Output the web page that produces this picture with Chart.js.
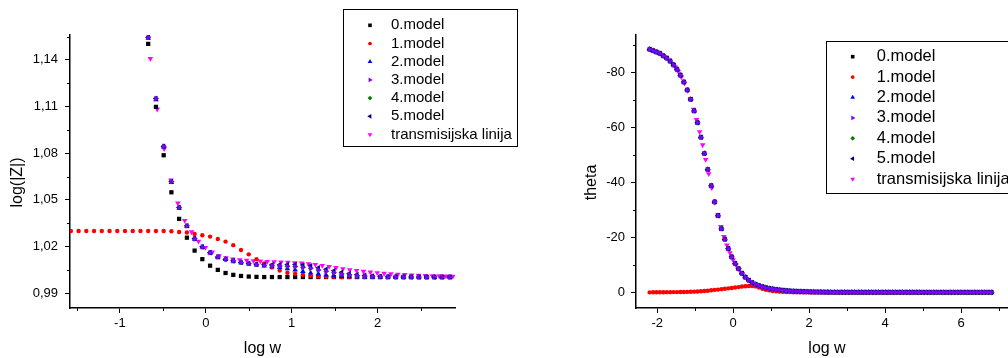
<!DOCTYPE html>
<html>
<head>
<meta charset="utf-8">
<script src="https://cdn.jsdelivr.net/npm/chart.js@4.4.1/dist/chart.umd.min.js"></script>
<style>
html, body { margin: 0; padding: 0; background: #fff; overflow: hidden; }
#wrap { position: relative; width: 1008px; height: 358px; overflow: hidden; }
#left { position: absolute; left: 0; top: 0; }
#right { position: absolute; left: 540px; top: 0; }
</style>
</head>
<body>
<div id="wrap">
  <canvas id="left" width="540" height="358"></canvas>
  <canvas id="right" width="500" height="358"></canvas>
</div>
<script>
// ---- data ----
const labels = ['0.model', '1.model', '2.model', '3.model', '4.model', '5.model', 'transmisijska linija'];

// log w sampling of the models
const logW = [-2.20, -2.11, -2.02, -1.93, -1.84, -1.75, -1.66, -1.57, -1.48, -1.39,
  -1.30, -1.21, -1.12, -1.03, -0.94, -0.85, -0.76, -0.67, -0.58, -0.49,
  -0.40, -0.31, -0.22, -0.13, -0.04, 0.05, 0.14, 0.23, 0.32, 0.41,
  0.50, 0.59, 0.68, 0.77, 0.86, 0.95, 1.04, 1.13, 1.22, 1.31,
  1.40, 1.49, 1.58, 1.67, 1.76, 1.85, 1.94, 2.03, 2.12, 2.21,
  2.30, 2.39, 2.48, 2.57, 2.66, 2.75, 2.84, 2.93, 3.02, 3.11,
  3.20, 3.29, 3.38, 3.47, 3.56, 3.65, 3.74, 3.83, 3.92, 4.01,
  4.10, 4.19, 4.28, 4.37, 4.46, 4.55, 4.64, 4.73, 4.82, 4.91,
  5.00, 5.09, 5.18, 5.27, 5.36, 5.45, 5.54, 5.63, 5.72, 5.81,
  5.90, 5.99, 6.08, 6.17, 6.26, 6.35, 6.44, 6.53, 6.62, 6.71, 6.80];

// log w sampling of the transmission line
const logWLine = [-2.165, -2.085, -2.005, -1.925, -1.845, -1.765, -1.685, -1.605, -1.525, -1.445,
  -1.365, -1.285, -1.205, -1.125, -1.045, -0.965, -0.885, -0.805, -0.725, -0.645,
  -0.565, -0.485, -0.405, -0.325, -0.245, -0.165, -0.085, -0.005, 0.075, 0.155,
  0.235, 0.315, 0.395, 0.475, 0.555, 0.635, 0.715, 0.795, 0.875, 0.955,
  1.035, 1.115, 1.195, 1.275, 1.355, 1.435, 1.515, 1.595, 1.675, 1.755,
  1.835, 1.915, 1.995, 2.075, 2.155, 2.235, 2.315, 2.395, 2.475, 2.555,
  2.635, 2.715, 2.795, 2.875, 2.955, 3.035, 3.115, 3.195, 3.275, 3.355,
  3.435, 3.515, 3.595, 3.675, 3.755, 3.835, 3.915, 3.995, 4.075, 4.155,
  4.235, 4.315, 4.395, 4.475, 4.555, 4.635, 4.715, 4.795, 4.875, 4.955,
  5.035, 5.115, 5.195, 5.275, 5.355, 5.435, 5.515, 5.595, 5.675, 5.755,
  5.835, 5.915, 5.995, 6.075, 6.155, 6.235, 6.315, 6.395, 6.475, 6.555,
  6.635, 6.715, 6.795];

// left panel: log(|Z|), points logW[7..56]; null = above the visible range
const zModel0 = [null, null, null, null, null, null, null, null, null, null,
  1.1503, 1.1098, 1.0787, 1.0549, 1.0378, 1.0257, 1.0174, 1.0119, 1.0077, 1.0050,
  1.0030, 1.0018, 1.0011, 1.0007, 1.0005, 1.0004, 1.0004, 1.0004, 1.0004, 1.0004,
  1.0004, 1.0004, 1.0004, 1.0004, 1.0004, 1.0004, 1.0004, 1.0004, 1.0004, 1.0004,
  1.0004, 1.0004, 1.0004, 1.0004, 1.0004, 1.0003, 1.0003, 1.0003, 1.0003, 1.0003];
const zModel1 = [1.0300, 1.0300, 1.0300, 1.0300, 1.0300, 1.0300, 1.0300, 1.0300, 1.0300, 1.0300,
  1.0300, 1.0300, 1.0300, 1.0298, 1.0294, 1.0290, 1.0281, 1.0273, 1.0264, 1.0249,
  1.0232, 1.0209, 1.0178, 1.0150, 1.0119, 1.0092, 1.0066, 1.0046, 1.0032, 1.0025,
  1.0019, 1.0012, 1.0008, 1.0006, 1.0005, 1.0004, 1.0004, 1.0004, 1.0004, 1.0004,
  1.0004, 1.0004, 1.0004, 1.0004, 1.0004, 1.0004, 1.0004, 1.0004, 1.0004, 1.0004];
const zModel2 = [null, null, null, null, null, null, null, null, null, null,
  1.1540, 1.1145, 1.0840, 1.0613, 1.0447, 1.0330, 1.0248, 1.0196, 1.0159, 1.0131,
  1.0117, 1.0106, 1.0096, 1.0089, 1.0082, 1.0076, 1.0071, 1.0066, 1.0058, 1.0050,
  1.0040, 1.0031, 1.0025, 1.0018, 1.0012, 1.0008, 1.0006, 1.0005, 1.0004, 1.0004,
  1.0004, 1.0004, 1.0004, 1.0004, 1.0004, 1.0004, 1.0004, 1.0004, 1.0004, 1.0004];
// 3.model and 4.model coincide in the picture
const zModel3 = [null, null, null, null, null, null, null, null, null, null,
  1.1546, 1.1151, 1.0845, 1.0618, 1.0451, 1.0334, 1.0251, 1.0198, 1.0161, 1.0133,
  1.0119, 1.0108, 1.0098, 1.0091, 1.0085, 1.0080, 1.0077, 1.0075, 1.0073, 1.0071,
  1.0067, 1.0061, 1.0050, 1.0041, 1.0032, 1.0024, 1.0018, 1.0013, 1.0010, 1.0008,
  1.0006, 1.0005, 1.0004, 1.0004, 1.0004, 1.0004, 1.0004, 1.0004, 1.0004, 1.0004];
const zModel5 = [null, null, null, null, null, null, null, null, null, null,
  1.1546, 1.1151, 1.0845, 1.0618, 1.0451, 1.0334, 1.0251, 1.0198, 1.0161, 1.0133,
  1.0119, 1.0108, 1.0098, 1.0091, 1.0087, 1.0084, 1.0083, 1.0083, 1.0084, 1.0085,
  1.0082, 1.0076, 1.0064, 1.0054, 1.0045, 1.0035, 1.0026, 1.0020, 1.0015, 1.0011,
  1.0008, 1.0006, 1.0005, 1.0004, 1.0004, 1.0004, 1.0004, 1.0004, 1.0004, 1.0004];
// transmission line, points logWLine[19..63]
const zLine = [1.1408, 1.1083, 1.0828, 1.0628, 1.0479, 1.0367, 1.0294, 1.0234, 1.0193, 1.0164,
  1.0140, 1.0127, 1.0119, 1.0114, 1.0111, 1.0108, 1.0106, 1.0104, 1.0102, 1.0100,
  1.0098, 1.0096, 1.0093, 1.0089, 1.0084, 1.0078, 1.0071, 1.0064, 1.0057, 1.0051,
  1.0045, 1.0040, 1.0035, 1.0031, 1.0027, 1.0024, 1.0021, 1.0019, 1.0017, 1.0015,
  1.0013, 1.0012, 1.0011, 1.0010, 1.0009];

// right panel: theta (deg)
// 0, 2, 3, 4 and 5.model all lie on the same points
const thetaFit = [-88.4, -87.9, -87.4, -86.9, -86.0, -85.2, -84.1, -82.7, -81.1, -79.0,
  -76.5, -73.6, -70.2, -66.0, -61.7, -56.4, -50.5, -44.7, -38.8, -32.9,
  -27.9, -23.1, -19.3, -15.9, -12.9, -10.5, -8.6, -6.9, -5.5, -4.4,
  -3.5, -2.9, -2.4, -2.0, -1.7, -1.4, -1.2, -1.0, -0.85, -0.72,
  -0.6, -0.5, -0.42, -0.35, -0.3, -0.25, -0.2, -0.17, -0.14, -0.12,
  -0.1, -0.08, -0.07, -0.06, -0.05, -0.04, -0.03, -0.03, -0.02, -0.02,
  -0.02, -0.01, -0.01, -0.01, -0.01, -0.01, -0.01, -0.01, -0.01, -0.01,
  -0.01, -0.01, -0.01, -0.01, -0.01, -0.01, -0.01, -0.01, -0.01, -0.01,
  0, 0, 0, 0, 0, 0, 0, 0, 0, 0,
  0, 0, 0, 0, 0, 0, 0, 0, 0, 0, 0];
const thetaModel1 = [0, -0.02, -0.03, -0.04, -0.05, -0.06, -0.07, -0.08, -0.09, -0.1,
  -0.12, -0.15, -0.2, -0.25, -0.3, -0.4, -0.5, -0.6, -0.75, -0.9,
  -1.0, -1.15, -1.3, -1.45, -1.6, -1.75, -1.9, -2.1, -2.2, -2.3,
  -2.3, -2.15, -1.75, -1.3, -0.95, -0.7, -0.5, -0.35, -0.25, -0.18,
  -0.12, -0.08, -0.05, -0.03, -0.02, -0.02, -0.01, -0.01, -0.01, -0.01,
  0, 0, 0, 0, 0, 0, 0, 0, 0, 0,
  0, 0, 0, 0, 0, 0, 0, 0, 0, 0,
  0, 0, 0, 0, 0, 0, 0, 0, 0, 0,
  0, 0, 0, 0, 0, 0, 0, 0, 0, 0,
  0, 0, 0, 0, 0, 0, 0, 0, 0, 0, 0];
const thetaLine = [-88.2, -87.8, -87.3, -86.9, -86.1, -85.3, -84.4, -83.2, -81.9, -80.3,
  -78.3, -76.0, -73.4, -70.4, -66.6, -62.8, -58.4, -53.6, -48.3, -43.1,
  -38.0, -32.7, -28.2, -23.9, -20.3, -17.2, -14.4, -11.8, -9.9, -8.3,
  -6.8, -5.6, -4.6, -3.7, -3.2, -2.7, -2.3, -1.9, -1.65, -1.4,
  -1.2, -1.05, -0.9, -0.75, -0.65, -0.56, -0.48, -0.41, -0.35, -0.3,
  -0.26, -0.22, -0.18, -0.15, -0.13, -0.11, -0.1, -0.09, -0.08, -0.07,
  -0.06, -0.05, -0.05, -0.04, -0.04, -0.03, -0.03, -0.02, -0.02, -0.02,
  -0.01, -0.01, -0.01, -0.01, -0.01, -0.01, -0.01, -0.01, -0.01, -0.01,
  0, 0, 0, 0, 0, 0, 0, 0, 0, 0,
  0, 0, 0, 0, 0, 0, 0, 0, 0, 0,
  0, 0, 0, 0, 0, 0, 0, 0, 0, 0,
  0, 0, 0];

const logWLeft = logW.slice(7, 57);
const logWLineLeft = logWLine.slice(19, 64);

// ---- styling ----
const FONT = 'Arial, "Liberation Sans", sans-serif';
Chart.defaults.font.family = FONT;

// one entry per legend row; rank: lower is drawn on top
const styles = [
  { color: '#000000', shape: 'rect', rot: 0, r: 3, rank: 6 },
  { color: '#ff0000', shape: 'circle', rot: 0, r: 2.2, rank: 5 },
  { color: '#0000ff', shape: 'triangle', rot: 0, r: 3.2, rank: 4 },
  { color: '#8000ff', shape: 'triangle', rot: 90, r: 3.2, rank: 1 },
  { color: '#008000', shape: 'rectRot', rot: 0, r: 2.8, rank: 3 },
  { color: '#000080', shape: 'triangle', rot: 270, r: 3.2, rank: 2 },
  { color: '#ff00ff', shape: 'triangle', rot: 180, r: 3.2, rank: 7 }
];

function pts(xs, ys) {
  return xs.map((x, i) => ({ x: x, y: ys[i] })).filter(p => p.y !== null);
}

// legend box, rotated y title and minor ticks
function extras(e) {
  return {
    id: 'extras',
    afterDraw(chart) {
      const ctx = chart.ctx, a = chart.chartArea;
      const sx = chart.scales.x, sy = chart.scales.y;
      ctx.save();
      ctx.strokeStyle = '#000';
      ctx.lineWidth = 1;
      ctx.beginPath();
      e.minorX.forEach(v => {
        const px = Math.round(sx.getPixelForValue(v)) + 0.5;
        ctx.moveTo(px, a.bottom); ctx.lineTo(px, a.bottom + 3);
      });
      e.minorY.forEach(v => {
        const py = Math.round(sy.getPixelForValue(v)) + 0.5;
        ctx.moveTo(a.left, py); ctx.lineTo(a.left - 3, py);
      });
      ctx.stroke();

      ctx.fillStyle = '#000';
      ctx.font = '16px ' + FONT;
      ctx.textAlign = 'center';
      ctx.textBaseline = 'middle';
      ctx.translate(e.yTitle.x, e.yTitle.y);
      ctx.rotate(-Math.PI / 2);
      ctx.fillText(e.yTitle.text, 0, 0);
      ctx.restore();

      const L = e.legend;
      ctx.save();
      ctx.fillStyle = '#fff';
      ctx.fillRect(L.x, L.y, L.w, L.h);
      ctx.strokeStyle = '#000';
      ctx.lineWidth = 1;
      ctx.strokeRect(L.x + 0.5, L.y + 0.5, L.w, L.h);
      ctx.font = L.size + 'px ' + FONT;
      ctx.textAlign = 'left';
      ctx.textBaseline = 'middle';
      labels.forEach((t, i) => {
        const y = L.row0 + i * L.step;
        const s = styles[i];
        ctx.fillStyle = s.color;
        Chart.helpers.drawPoint(ctx, { pointStyle: s.shape, rotation: s.rot, radius: s.r * 0.85, borderWidth: 0 }, L.mx, y);
        ctx.fillStyle = '#000';
        ctx.fillText(t, L.tx, y);
      });
      ctx.restore();
    }
  };
}

function axis(c, horizontal) {
  const base = {
    type: 'linear',
    min: c.min,
    max: c.max,
    afterBuildTicks: s => { s.ticks = c.ticks.map(v => ({ value: v })); },
    grid: { drawOnChartArea: false, tickLength: 5, tickColor: '#000', tickWidth: 1 },
    border: { color: '#000', width: 1.5 },
    ticks: { color: '#000', font: { size: 13 }, autoSkip: false, maxRotation: 0, callback: c.fmt }
  };
  if (horizontal) {
    base.afterFit = s => { s.height = 50; };
    base.ticks.padding = 3;
    base.title = { display: true, text: 'log w', color: '#000', font: { size: 16 }, padding: 0 };
  } else {
    base.reverse = !!c.reverse;
    base.afterFit = s => { s.width = c.width; };
    base.ticks.padding = c.pad;
  }
  return base;
}

function makeChart(id, c) {
  return new Chart(document.getElementById(id), {
    type: 'scatter',
    data: {
      datasets: c.series.map((s, i) => ({
        label: labels[i],
        data: pts(s[0], s[1]),
        pointStyle: styles[i].shape,
        pointRotation: styles[i].rot,
        pointRadius: styles[i].r,
        pointHoverRadius: styles[i].r,
        pointBackgroundColor: styles[i].color,
        pointBorderColor: styles[i].color,
        pointBorderWidth: 0,
        order: styles[i].rank
      }))
    },
    options: {
      responsive: false,
      animation: false,
      events: [],
      layout: { padding: { left: 0, top: 35, right: c.padRight, bottom: 0 } },
      plugins: { legend: { display: false }, tooltip: { enabled: false } },
      scales: { x: axis(c.x, true), y: axis(c.y, false) }
    },
    plugins: [extras(c.extras)]
  });
}

makeChart('left', {
  series: [[logWLeft, zModel0], [logWLeft, zModel1], [logWLeft, zModel2], [logWLeft, zModel3],
    [logWLeft, zModel3], [logWLeft, zModel5], [logWLineLeft, zLine]],
  padRight: 85,
  x: { min: -1.58, max: 2.9, ticks: [-1, 0, 1, 2], fmt: v => String(v) },
  y: { min: 0.9805, max: 1.156, ticks: [0.99, 1.02, 1.05, 1.08, 1.11, 1.14], width: 70, pad: 7,
    fmt: v => v.toFixed(2).replace('.', ',') },
  extras: {
    minorX: [-1.5, -0.5, 0.5, 1.5, 2.5],
    minorY: [1.005, 1.035, 1.065, 1.095, 1.125, 1.155],
    yTitle: { text: 'log(|Z|)', x: 18, y: 182.5 },
    legend: { x: 343, y: 9, w: 174, h: 137, mx: 370, tx: 391, row0: 25.3, step: 18.2, size: 15 }
  }
});

makeChart('right', {
  series: [[logW, thetaFit], [logW, thetaModel1], [logW, thetaFit], [logW, thetaFit],
    [logW, thetaFit], [logW, thetaFit], [logWLine, thetaLine]],
  padRight: 22,
  x: { min: -2.56, max: 7.5, ticks: [-2, 0, 2, 4, 6], fmt: v => String(v) },
  y: { min: -93.6, max: 5.7, reverse: true, ticks: [-80, -60, -40, -20, 0], width: 96, pad: 6,
    fmt: v => String(v) },
  extras: {
    minorX: [-1, 1, 3, 5, 7],
    minorY: [-90, -70, -50, -30, -10],
    yTitle: { text: 'theta', x: 51.2, y: 182.5 },
    legend: { x: 286, y: 41, w: 200, h: 152, mx: 312.7, tx: 336.7, row0: 56.7, step: 20.4, size: 16.5 }
  }
});
</script>
</body>
</html>
